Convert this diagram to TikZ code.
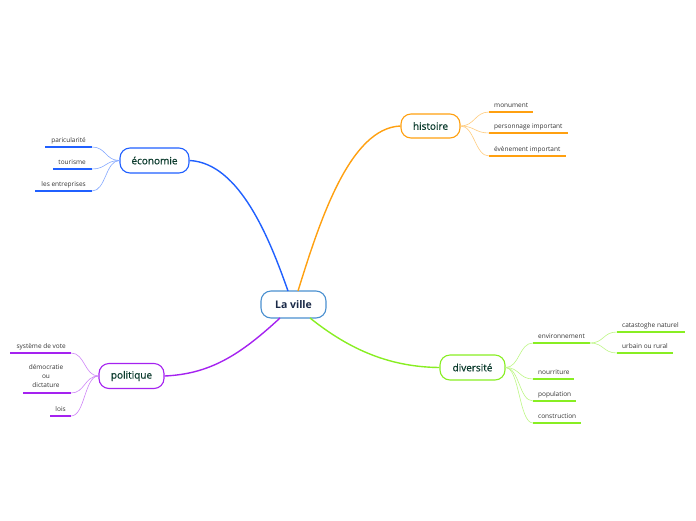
\documentclass[tikz,border=0pt]{standalone}
\usepackage{fontspec}
\setmainfont{Open Sans}
\usetikzlibrary{calc}
\definecolor{cblue}{HTML}{2060FF}
\definecolor{corange}{HTML}{FFA010}
\definecolor{cgreen}{HTML}{88EE22}
\definecolor{cpurple}{HTML}{A522F0}
\definecolor{ccenter}{HTML}{4A90D0}
\definecolor{ctopic}{HTML}{0A3A2C}
\definecolor{cnavy}{HTML}{1B2A48}
\definecolor{csub}{HTML}{333333}
\begin{document}
\begin{tikzpicture}[x=1pt,y=-1pt,
  topic/.style={draw,rounded corners=10pt,fill=white,line width=1.1pt,minimum height=25pt,inner sep=0pt,text=ctopic,font=\fontsize{10}{12}\selectfont\addfontfeature{FakeBold=0.6}},
  subl/.style={font=\fontsize{6.5}{9}\selectfont,text=csub,inner sep=0pt,anchor=base west},
  subr/.style={font=\fontsize{6.5}{9}\selectfont,text=csub,inner sep=0pt,anchor=base east},
  main/.style={line width=1.4pt},
  thin/.style={line width=0.6pt},
  uline/.style={line width=1.3pt}]
\useasboundingbox (0,0) rectangle (696,520);

% topics
\node[topic,draw=ccenter,minimum width=65pt,minimum height=27pt,text=cnavy,font=\fontsize{10.5}{12}\bfseries] (c) at (293.5,304.5) {La ville};
\node[topic,draw=cblue,minimum width=69pt] (eco) at (154.5,160.5) {économie};
\node[topic,draw=corange,minimum width=59pt,minimum height=24pt] (his) at (430.5,126) {histoire};
\node[topic,draw=cgreen,minimum width=65pt] (div) at (472.5,367.5) {diversité};
\node[topic,draw=cpurple,minimum width=65pt] (pol) at (131.5,376) {politique};

% main connectors
\coordinate (cb) at (288,291);
\coordinate (co) at (298,291);
\coordinate (cp) at (280,318);
\coordinate (cg) at (310,318);
\draw[main,cblue] (cb) .. controls (270,240) and (240,163) .. (eco.east);
\draw[main,corange] (co) .. controls (320,220) and (350,128) .. (his.west);
\draw[main,cpurple] (cp) .. controls (240,355) and (210,374) .. (pol.east);
\draw[main,cgreen] (cg) .. controls (350,350) and (390,367) .. (div.west);

% economie subs
\coordinate (e1a) at (45,147); \coordinate (e1b) at (92,147);
\coordinate (e2a) at (53,169); \coordinate (e2b) at (92,169);
\coordinate (e3a) at (35,191); \coordinate (e3b) at (92,191);
\node[subr] (e1) at (86,142) {paricularité};
\node[subr] (e2) at (86,164) {tourisme};
\node[subr] (e3) at (86,186) {les entreprises};
\foreach \k in {1,2,3}{
  \draw[uline,cblue] (e\k a) -- (e\k b);
  \draw[thin,cblue!55] (eco.west) .. controls +(-14,0) and ($(e\k b)+(14,0)$) .. (e\k b);
}

% histoire subs
\coordinate (h1a) at (489,112); \coordinate (h1b) at (533,112);
\coordinate (h2a) at (489,133); \coordinate (h2b) at (568,133);
\coordinate (h3a) at (489,156); \coordinate (h3b) at (566,156);
\node[subl] (h1) at (494,107) {monument};
\node[subl] (h2) at (494,128) {personnage important};
\node[subl] (h3) at (494,151) {évènement important};
\foreach \k in {1,2,3}{
  \draw[uline,corange] (h\k a) -- (h\k b);
  \draw[thin,corange!55] (his.east) .. controls +(14,0) and ($(h\k a)+(-14,0)$) .. (h\k a);
}

% diversite subs
\coordinate (d1a) at (533,343); \coordinate (d1b) at (590,343);
\coordinate (d2a) at (533,379); \coordinate (d2b) at (574,379);
\coordinate (d3a) at (533,401); \coordinate (d3b) at (576,401);
\coordinate (d4a) at (533,423); \coordinate (d4b) at (581,423);
\coordinate (d5a) at (617,332); \coordinate (d5b) at (685,332);
\coordinate (d6a) at (617,353); \coordinate (d6b) at (673,353);
\node[subl] (d1) at (538,338) {environnement};
\node[subl] (d2) at (538,374) {nourriture};
\node[subl] (d3) at (538,396) {population};
\node[subl] (d4) at (538,418) {construction};
\node[subl] (d5) at (622,327) {catastoghe naturel};
\node[subl] (d6) at (622,348) {urbain ou rural};
\foreach \k in {1,2,3,4}{
  \draw[uline,cgreen] (d\k a) -- (d\k b);
  \draw[thin,cgreen!55] (div.east) .. controls +(14,0) and ($(d\k a)+(-14,0)$) .. (d\k a);
}
\foreach \k in {5,6}{
  \draw[uline,cgreen] (d\k a) -- (d\k b);
  \draw[thin,cgreen!55] (d1b) .. controls +(14,0) and ($(d\k a)+(-14,0)$) .. (d\k a);
}

% politique subs
\coordinate (p1a) at (10,353); \coordinate (p1b) at (71,353);
\coordinate (p2a) at (23,393); \coordinate (p2b) at (71,393);
\coordinate (p3a) at (50,416); \coordinate (p3b) at (71,416);
\node[subr] (p1) at (66,348) {système de vote};
\node[font=\fontsize{6.5}{9}\selectfont,text=csub,inner sep=0pt,align=center] (p2) at (46,376) {démocratie\\ou\\dictature};
\node[subr] (p3) at (66,411) {lois};
\foreach \k in {1,2,3}{
  \draw[uline,cpurple] (p\k a) -- (p\k b);
  \draw[thin,cpurple!55] (pol.west) .. controls +(-14,0) and ($(p\k b)+(14,0)$) .. (p\k b);
}
\end{tikzpicture}
\end{document}
